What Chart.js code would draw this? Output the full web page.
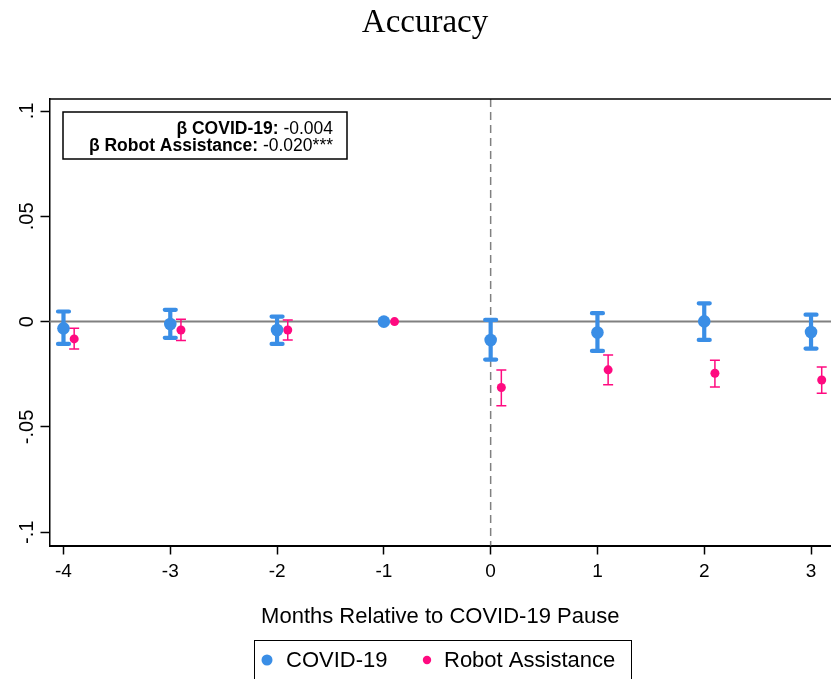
<!DOCTYPE html>
<html>
<head>
<meta charset="utf-8">
<script src="https://cdn.jsdelivr.net/npm/chart.js@4/dist/chart.umd.min.js"></script>
<style>
  html, body { margin: 0; padding: 0; background: #fff; }
  canvas { display: block; }
</style>
</head>
<body>
<canvas id="chart" width="831" height="679"></canvas>
<script>
// event-study estimates
const months = [-4, -3, -2, -1, 0, 1, 2, 3];
const covidEst = [-0.0032, -0.0011, -0.0040, 0, -0.0087, -0.0052, 0.0001, -0.0049];
const covidLo = [-0.0106, -0.0077, -0.0106, null, -0.0180, -0.0139, -0.0087, -0.0128];
const covidHi = [0.0048, 0.0056, 0.0024, null, 0.0008, 0.0040, 0.0087, 0.0033];
const robotEst = [-0.0082, -0.0040, -0.0040, 0, -0.0313, -0.0229, -0.0245, -0.0277];
const robotLo = [-0.0130, -0.0090, -0.0087, null, -0.0400, -0.0300, -0.0310, -0.0340];
const robotHi = [-0.0032, 0.0011, 0.0008, null, -0.0230, -0.0158, -0.0184, -0.0215];
const yTicks = [-0.1, -0.05, 0, 0.05, 0.1];
const yTickLabels = ['-.1', '-.05', '0', '.05', '.1'];
const xTicks = months;

const titleText = 'Accuracy';
const xTitle = 'Months Relative to COVID-19 Pause';
const seriesNames = ['COVID-19', 'Robot Assistance'];
const noteLines = [
  ['β COVID-19:', ' -0.004'],
  ['β Robot Assistance:', ' -0.020***']
];

const BLUE = '#3a8ee6';
const PINK = '#ff0a80';
const ROBOT_SHIFT = 0.1;
const SANS = '"Liberation Sans", Arial, sans-serif';

const extrasPlugin = {
  id: 'extras',
  beforeDatasetsDraw(chart) {
    const { ctx, chartArea: a, scales: { x, y } } = chart;
    ctx.save();
    // zero line
    ctx.strokeStyle = '#808080';
    ctx.lineWidth = 2;
    ctx.beginPath();
    ctx.moveTo(a.left, y.getPixelForValue(0));
    ctx.lineTo(a.right, y.getPixelForValue(0));
    ctx.stroke();
    // pause marker
    ctx.setLineDash([8, 5]);
    ctx.lineWidth = 1.5;
    ctx.beginPath();
    ctx.moveTo(x.getPixelForValue(0), a.top);
    ctx.lineTo(x.getPixelForValue(0), a.bottom);
    ctx.stroke();
    ctx.setLineDash([]);
    // top frame
    ctx.strokeStyle = '#000';
    ctx.lineWidth = 1.5;
    ctx.beginPath();
    ctx.moveTo(a.left, a.top);
    ctx.lineTo(a.right, a.top);
    ctx.stroke();

    // confidence intervals
    const drawBars = (lo, hi, shift, color, lw, cap) => {
      ctx.strokeStyle = color;
      ctx.lineWidth = lw;
      months.forEach((m, i) => {
        if (lo[i] === null) return;
        const px = x.getPixelForValue(m + shift);
        const y1 = y.getPixelForValue(lo[i]);
        const y2 = y.getPixelForValue(hi[i]);
        ctx.beginPath();
        ctx.moveTo(px, y1); ctx.lineTo(px, y2);
        ctx.moveTo(px - cap, y1); ctx.lineTo(px + cap, y1);
        ctx.moveTo(px - cap, y2); ctx.lineTo(px + cap, y2);
        ctx.stroke();
      });
    };
    ctx.lineCap = 'round';
    drawBars(covidLo, covidHi, 0, BLUE, 4.2, 5.5);
    ctx.lineCap = 'butt';
    drawBars(robotLo, robotHi, ROBOT_SHIFT, PINK, 1.5, 5);
    ctx.restore();
  },
  afterDraw(chart) {
    const { ctx, scales: { y } } = chart;
    ctx.save();
    ctx.fillStyle = '#000';

    // title
    ctx.font = '33px "Liberation Serif", "Times New Roman", serif';
    ctx.textAlign = 'center';
    ctx.textBaseline = 'alphabetic';
    ctx.fillText(titleText, 425, 32);

    // y tick labels, rotated
    ctx.font = '20px ' + SANS;
    yTicks.forEach((v, i) => {
      ctx.save();
      ctx.translate(33, y.getPixelForValue(v));
      ctx.rotate(-Math.PI / 2);
      ctx.textAlign = 'center';
      ctx.textBaseline = 'alphabetic';
      ctx.fillText(yTickLabels[i], 0, 0);
      ctx.restore();
    });

    // coefficient box
    ctx.fillStyle = '#fff';
    ctx.fillRect(63, 112, 284, 47);
    ctx.strokeStyle = '#000';
    ctx.lineWidth = 1.5;
    ctx.strokeRect(63, 112, 284, 47);
    ctx.fillStyle = '#000';
    ctx.textAlign = 'right';
    ctx.textBaseline = 'alphabetic';
    noteLines.forEach((ln, i) => {
      const by = 134 + i * 17;
      ctx.font = '17.5px ' + SANS;
      const w = ctx.measureText(ln[1]).width;
      ctx.fillText(ln[1], 333, by);
      ctx.font = 'bold 17.5px ' + SANS;
      ctx.fillText(ln[0], 333 - w, by);
    });

    // legend
    ctx.lineWidth = 1;
    ctx.strokeRect(254.5, 640.5, 377, 60);
    ctx.font = '22px ' + SANS;
    ctx.textAlign = 'left';
    ctx.textBaseline = 'middle';
    ctx.fillStyle = BLUE;
    ctx.beginPath(); ctx.arc(267, 660, 5.5, 0, Math.PI * 2); ctx.fill();
    ctx.fillStyle = '#000';
    ctx.fillText(seriesNames[0], 286, 661);
    ctx.fillStyle = PINK;
    ctx.beginPath(); ctx.arc(427, 660, 4.2, 0, Math.PI * 2); ctx.fill();
    ctx.fillStyle = '#000';
    ctx.fillText(seriesNames[1], 444, 661);
    ctx.restore();
  }
};

new Chart(document.getElementById('chart'), {
  type: 'scatter',
  data: {
    datasets: [
      {
        label: seriesNames[0],
        data: months.map((m, i) => ({ x: m, y: covidEst[i] })),
        backgroundColor: BLUE,
        borderWidth: 0,
        pointRadius: 6.3,
        pointHoverRadius: 6.3
      },
      {
        label: seriesNames[1],
        data: months.map((m, i) => ({ x: m + ROBOT_SHIFT, y: robotEst[i] })),
        backgroundColor: PINK,
        borderWidth: 0,
        pointRadius: 4.5,
        pointHoverRadius: 4.5
      }
    ]
  },
  options: {
    responsive: false,
    animation: false,
    devicePixelRatio: 1,
    clip: false,
    layout: { autoPadding: false, padding: { top: 99, left: 0, right: 0, bottom: 0 } },
    plugins: {
      legend: { display: false },
      title: { display: false },
      tooltip: { enabled: false }
    },
    scales: {
      x: {
        type: 'linear',
        min: -4.131,
        max: 3.187,
        afterBuildTicks: (s) => { s.ticks = xTicks.map((v) => ({ value: v })); },
        afterFit: (s) => { s.height = 133.5; },
        grid: {
          drawOnChartArea: false,
          drawTicks: true,
          tickLength: 9,
          tickColor: '#000',
          tickWidth: 1.5
        },
        border: { color: '#000', width: 2 },
        ticks: {
          color: '#000',
          padding: 6,
          maxRotation: 0,
          font: { family: SANS, size: 19 },
          callback: (v) => String(v)
        },
        title: {
          display: true,
          text: xTitle,
          color: '#000',
          font: { family: SANS, size: 22, lineHeight: 1.2 },
          padding: { top: 0, bottom: 49 }
        }
      },
      y: {
        min: -0.1063,
        max: 0.1057,
        afterBuildTicks: (s) => { s.ticks = yTicks.map((v) => ({ value: v })); },
        afterFit: (s) => { s.width = 49.5; },
        grid: {
          drawOnChartArea: false,
          drawTicks: true,
          tickLength: 9,
          tickColor: '#000',
          tickWidth: 1.5
        },
        border: { color: '#000', width: 1.5 },
        ticks: { display: false }
      }
    }
  },
  plugins: [extrasPlugin]
});
</script>
</body>
</html>
